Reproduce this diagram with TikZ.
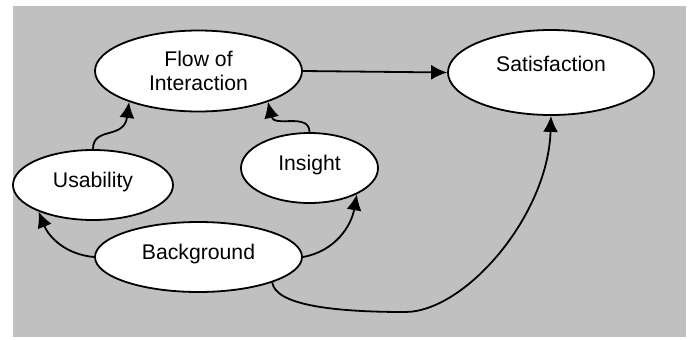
\documentclass[tikz,border=0pt]{standalone}
\usepackage{fontspec}
\setmainfont{Liberation Sans}
\usetikzlibrary{shapes.geometric,arrows.meta}
\definecolor{panelgray}{RGB}{192,192,192}

\begin{document}
\begin{tikzpicture}[>={Latex[length=8pt,width=7.5pt]},line width=0.9pt,x=0.5pt,y=0.5pt,
	oval/.style={ellipse,draw,fill=white,inner sep=0pt,align=center,
		font=\fontsize{10.6}{12}\selectfont},
	lift/.style={text depth=0.55em}]
\useasboundingbox (0,0) rectangle (691,339);
\fill[panelgray] (13,2) rectangle (686,333);

\node[oval,minimum width=103.5pt,minimum height=40.5pt] (flow) at (198.5,268) {Flow of\\Interaction};
\node[oval,text depth=0.9em,minimum width=103pt,minimum height=42.5pt] (sat) at (551,266.5) {Satisfaction};
\node[oval,lift,minimum width=80pt,minimum height=35pt] (usab) at (93,154) {Usability};
\node[oval,lift,minimum width=68.5pt,minimum height=35pt] (insight) at (309.5,171) {Insight};
\node[oval,lift,minimum width=103.5pt,minimum height=35pt] (backg) at (198.5,82) {Background};

\coordinate (low) at (405,27);

\draw[->] (usab.north) .. controls +(0,23) and +(-5,-38) .. (flow.-156);
\draw[->] (insight.north) .. controls +(0,20) and +(6,-26) .. (flow.-24);
\draw[->] (flow.east) -- (sat.west);

\draw[->] (backg.west) to[out=175,in=-68] (usab.-154);
\draw[->] (backg.east) to[out=10,in=-100] (insight.-29);
\draw[->] (backg.-19) .. controls +(3,-22) and +(-75,0) .. (low)
	.. controls +(60,0) and +(-3,-100) .. (sat.south);

\end{tikzpicture}
\end{document}
